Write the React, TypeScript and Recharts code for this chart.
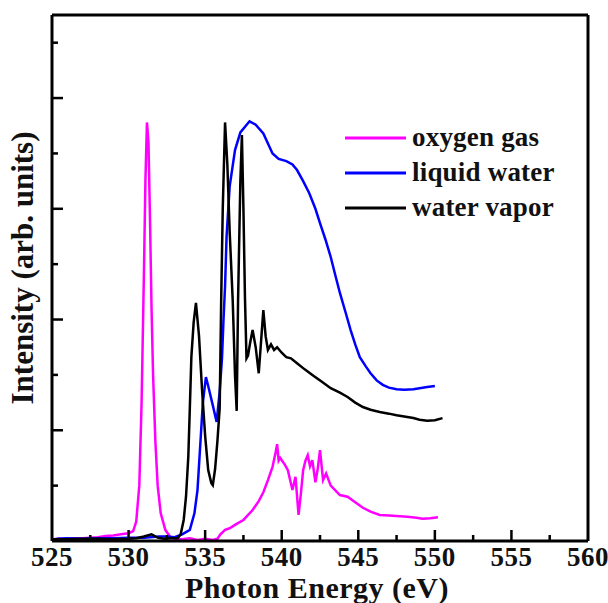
import React from 'react';
import { LineChart, Line, XAxis, YAxis, ReferenceLine, Legend, Label } from 'recharts';

// Photon energy (eV) and intensity (arb. units) for each spectrum
const oxygenEnergy = [525.0, 525.5, 526.0, 526.5, 527.0, 527.5, 528.0, 528.5, 529.0, 529.5, 530.0, 530.3, 530.5, 530.7, 530.85, 531.0, 531.1, 531.2, 531.3, 531.4, 531.5, 531.6, 531.75, 531.9, 532.1, 532.4, 532.7, 533.0, 533.5, 534.0, 534.5, 535.0, 535.5, 535.8, 536.0, 536.3, 536.6, 537.0, 537.5, 538.1, 538.5, 538.8, 539.1, 539.4, 539.6, 539.7, 539.8, 539.9, 540.2, 540.4, 540.7, 540.9, 541.1, 541.25, 541.4, 541.55, 541.7, 541.85, 542.0, 542.2, 542.35, 542.5, 542.7, 542.9, 543.2, 543.8, 544.3, 544.8, 545.3, 545.8, 546.4, 547.0, 547.5, 548.2, 548.8, 549.2, 549.7, 550.2];
const oxygenIntensity = [0.03, 0.04, 0.03, 0.05, 0.05, 0.06, 0.07, 0.09, 0.1, 0.12, 0.14, 0.18, 0.35, 1.0, 2.5, 4.8, 6.5, 7.56, 7.2, 5.8, 4.2, 3.0, 1.8, 1.0, 0.5, 0.2, 0.08, 0.04, 0.03, 0.05, 0.02, 0.04, 0.02, 0.04, 0.12, 0.2, 0.23, 0.3, 0.38, 0.56, 0.72, 0.88, 1.1, 1.34, 1.6, 1.75, 1.45, 1.5, 1.38, 1.28, 0.92, 1.16, 0.47, 0.85, 1.28, 1.45, 1.55, 1.35, 1.46, 1.06, 1.3, 1.64, 1.1, 1.22, 1.0, 0.83, 0.8, 0.7, 0.6, 0.53, 0.47, 0.46, 0.45, 0.44, 0.42, 0.4, 0.41, 0.43];

const liquidEnergy = [525.3, 526.0, 527.0, 528.0, 529.0, 530.0, 531.0, 532.0, 532.5, 533.0, 533.5, 534.0, 534.3, 534.5, 534.7, 534.85, 535.05, 535.2, 535.5, 535.75, 535.95, 536.1, 536.2, 536.3, 536.4, 536.6, 536.95, 537.3, 537.9, 538.3, 538.8, 539.4, 539.8, 540.3, 540.7, 541.0, 541.4, 541.8, 542.2, 542.5, 542.85, 543.2, 543.5, 543.8, 544.2, 544.5, 544.8, 545.1, 545.5, 545.8, 546.2, 546.6, 547.0, 547.5, 548.0, 548.6, 549.0, 549.5, 550.0];
const liquidIntensity = [0.04, 0.05, 0.04, 0.05, 0.05, 0.06, 0.06, 0.08, 0.08, 0.07, 0.12, 0.2, 0.5, 0.92, 1.82, 2.5, 2.96, 2.8, 2.45, 2.15, 2.7, 3.3, 4.0, 4.6, 5.5, 6.4, 7.06, 7.38, 7.58, 7.52, 7.36, 7.0, 6.9, 6.86, 6.8, 6.7, 6.5, 6.28, 6.0, 5.74, 5.45, 5.13, 4.8, 4.48, 4.1, 3.81, 3.55, 3.32, 3.15, 3.03, 2.9, 2.82, 2.77, 2.74, 2.73, 2.74, 2.76, 2.78, 2.8];

const vaporEnergy = [525.0, 526.0, 527.0, 528.0, 529.0, 530.0, 530.5, 531.0, 531.5, 531.9, 532.3, 532.8, 533.2, 533.4, 533.6, 533.75, 533.9, 534.0, 534.1, 534.25, 534.4, 534.6, 534.8, 535.0, 535.2, 535.4, 535.5, 535.65, 535.8, 535.95, 536.05, 536.15, 536.3, 536.45, 536.6, 536.8, 536.95, 537.06, 537.15, 537.3, 537.4, 537.5, 537.6, 537.7, 537.8, 537.95, 538.1, 538.3, 538.5, 538.65, 538.8, 538.95, 539.1, 539.3, 539.5, 539.7, 540.0, 540.3, 540.6, 541.0, 541.5, 542.0, 542.6, 543.2, 543.8, 544.3, 544.8, 545.3, 545.8, 546.4, 547.0, 547.5, 548.0, 548.6, 549.0, 549.5, 550.0, 550.5];
const vaporIntensity = [0.03, 0.03, 0.04, 0.04, 0.03, 0.04, 0.05, 0.08, 0.12, 0.06, 0.04, 0.05, 0.05, 0.12, 0.38, 0.8, 1.52, 2.4, 3.32, 3.95, 4.3, 3.7, 2.72, 1.9, 1.28, 1.05, 1.01, 1.3, 1.8, 2.4, 4.4, 6.0, 7.56, 6.8, 5.6, 4.35, 3.0, 2.35, 4.35, 6.5, 7.33, 6.0, 4.4, 3.3, 3.35, 3.6, 3.81, 3.5, 3.03, 3.6, 4.17, 3.7, 3.45, 3.55, 3.45, 3.5, 3.4, 3.32, 3.3, 3.21, 3.1, 3.0, 2.88, 2.76, 2.68, 2.6, 2.5, 2.42, 2.37, 2.33, 2.3, 2.27, 2.25, 2.22, 2.19, 2.17, 2.18, 2.22];

const seriesNames = ['oxygen gas', 'liquid water', 'water vapor'];
const seriesColors = ['#ff00ff', '#0000ff', '#000000'];

const xTicks = [525, 527.5, 530, 532.5, 535, 537.5, 540, 542.5, 545, 547.5, 550, 552.5, 555, 557.5, 560];
const yTicks = [0, 1, 2, 3, 4, 5, 6, 7, 8, 9];

const toPoints = (xs: number[], ys: number[]) => xs.map((x, i) => ({ x, y: ys[i] }));
const oxygenData = toPoints(oxygenEnergy, oxygenIntensity);
const liquidData = toPoints(liquidEnergy, liquidIntensity);
const vaporData = toPoints(vaporEnergy, vaporIntensity);

const FONT = '"Liberation Serif", "Times New Roman", serif';

const XTick = (props: any) => {
  const { x, y, payload } = props;
  const v = payload.value as number;
  const major = v % 5 === 0;
  return (
    <g>
      {v !== 525 && v !== 560 && (
        <line x1={x} x2={x} y1={y} y2={y - (major ? 11 : 6)} stroke="#000" strokeWidth={2.5} />
      )}
      {major && (
        <text x={x} y={y + 25} textAnchor="middle" fontSize={27} fontWeight="bold" fontFamily={FONT} fill="#111" letterSpacing={0.5}>
          {v}
        </text>
      )}
    </g>
  );
};

const YTick = (props: any) => {
  const { x, y, payload } = props;
  const v = payload.value as number;
  if (v === 0) return <g />;
  const major = v % 2 === 0;
  return <line x1={x} x2={x + (major ? 11 : 6)} y1={y} y2={y} stroke="#000" strokeWidth={2.5} />;
};

const renderLegend = (props: any) => {
  const payload = [...(props.payload || [])].sort(
    (a: any, b: any) => seriesNames.indexOf(a.value) - seriesNames.indexOf(b.value)
  );
  return (
    <div style={{ display: 'flex', flexDirection: 'column' }}>
      {payload.map((entry: any) => (
        <div key={entry.value} style={{ display: 'flex', alignItems: 'center', height: 35 }}>
          <svg width={61} height={4} style={{ display: 'block' }}>
            <line x1={0} x2={61} y1={2} y2={2} stroke={entry.color} strokeWidth={3} />
          </svg>
          <span
            style={{
              marginLeft: 6,
              fontFamily: FONT,
              fontWeight: 'bold',
              fontSize: 27,
              letterSpacing: '0.2px',
              color: '#111',
              lineHeight: '35px',
              whiteSpace: 'nowrap',
            }}
          >
            {entry.value}
          </span>
        </div>
      ))}
    </div>
  );
};

export default function App() {
  return (
    <div style={{ width: 608, height: 603, background: '#fff' }}>
      <style>{'body{margin:0;background:#fff}'}</style>
      <LineChart width={608} height={603} margin={{ top: 15, right: 20, left: 0, bottom: 0 }}>
        <XAxis
          type="number"
          dataKey="x"
          domain={[525, 560]}
          ticks={xTicks}
          interval={0}
          allowDataOverflow
          height={62}
          tickSize={0}
          tickMargin={0}
          tickLine={false}
          tick={<XTick />}
          axisLine={{ stroke: '#000', strokeWidth: 3 }}
        >
          <Label
            content={(p: any) => {
              const vb = p.viewBox;
              return (
                <text
                  x={vb.x + vb.width / 2 - 3}
                  y={vb.y + 57}
                  textAnchor="middle"
                  fontSize={30}
                  fontWeight="bold"
                  fontFamily={FONT}
                  fill="#111"
                  letterSpacing={0.5}
                >
                  Photon Energy (eV)
                </text>
              );
            }}
          />
        </XAxis>
        <YAxis
          type="number"
          domain={[0, 9.5]}
          ticks={yTicks}
          interval={0}
          allowDataOverflow
          width={52}
          tickSize={0}
          tickMargin={0}
          tickLine={false}
          tick={<YTick />}
          axisLine={{ stroke: '#000', strokeWidth: 3 }}
        >
          <Label
            content={(p: any) => {
              const vb = p.viewBox;
              const cx = vb.x + 33;
              const cy = vb.y + vb.height / 2 - 10;
              return (
                <text
                  x={cx}
                  y={cy}
                  transform={`rotate(-90, ${cx}, ${cy})`}
                  textAnchor="middle"
                  fontSize={31}
                  fontWeight="bold"
                  fontFamily={FONT}
                  fill="#111"
                >
                  Intensity (arb. units)
                </text>
              );
            }}
          />
        </YAxis>
        <ReferenceLine y={9.5} stroke="#000" strokeWidth={3} ifOverflow="visible" />
        <ReferenceLine x={560} stroke="#000" strokeWidth={3} ifOverflow="visible" />
        <Legend
          layout="vertical"
          align="center"
          verticalAlign="middle"
          wrapperStyle={{ position: 'absolute', left: 345, top: 120, width: 'auto', height: 'auto' }}
          content={renderLegend}
        />
        <Line
          data={oxygenData}
          dataKey="y"
          name={seriesNames[0]}
          stroke={seriesColors[0]}
          strokeWidth={2.5}
          dot={false}
          type="linear"
          isAnimationActive={false}
        />
        <Line
          data={liquidData}
          dataKey="y"
          name={seriesNames[1]}
          stroke={seriesColors[1]}
          strokeWidth={2.5}
          dot={false}
          type="linear"
          isAnimationActive={false}
        />
        <Line
          data={vaporData}
          dataKey="y"
          name={seriesNames[2]}
          stroke={seriesColors[2]}
          strokeWidth={2.5}
          dot={false}
          type="linear"
          isAnimationActive={false}
        />
      </LineChart>
    </div>
  );
}
